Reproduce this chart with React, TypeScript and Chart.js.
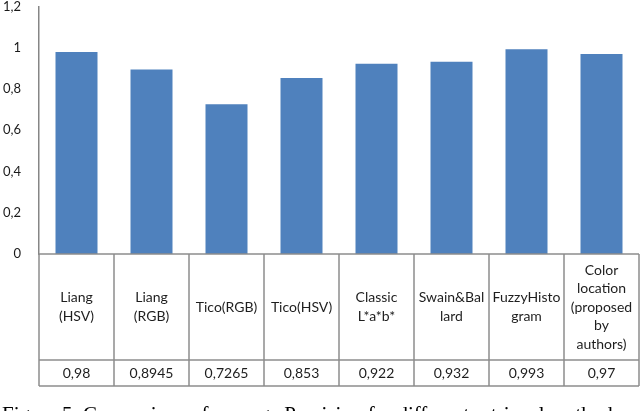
import React, { useEffect, useRef } from "react";
import { Chart, registerables } from "chart.js";

Chart.register(...registerables);

// ---- data ----
const categories: string[][] = [
  ["Liang", "(HSV)"],
  ["Liang", "(RGB)"],
  ["Tico(RGB)"],
  ["Tico(HSV)"],
  ["Classic", "L*a*b*"],
  ["Swain&Bal", "lard"],
  ["FuzzyHisto", "gram"],
  ["Color", "location", "(proposed", "by", "authors)"],
];
const precision: number[] = [0.98, 0.8945, 0.7265, 0.853, 0.922, 0.932, 0.993, 0.97];
const yMin = 0;
const yMax = 1.2;
const yStep = 0.2;
const caption = "Figure 5. Comparison of average Precision for different retrieval methods";

const fmt = (v: number) => String(Number(v.toFixed(4))).replace(".", ",");

const FONT = "Lato, 'Open Sans', sans-serif";

const tablePlugin = {
  id: "dataTable",
  afterDraw(chart: any) {
    const { ctx, chartArea } = chart;
    const xs = chart.scales.x;
    const n = categories.length;
    const left = chartArea.left;
    const right = chartArea.right;
    const w = (right - left) / n;
    const top = chartArea.bottom;
    const mid = top + 106;
    const bottom = top + 132;
    ctx.save();
    ctx.strokeStyle = "#8c8c8c";
    ctx.lineWidth = 1.5;
    const line = (x1: number, y1: number, x2: number, y2: number) => {
      ctx.beginPath();
      ctx.moveTo(x1, y1);
      ctx.lineTo(x2, y2);
      ctx.stroke();
    };
    [top, mid, bottom].forEach((y) => line(left, y, right, y));
    for (let i = 0; i <= n; i++) {
      const xb = left + i * w;
      line(xb, top, xb, bottom);
    }
    ctx.fillStyle = "#1e1e1e";
    ctx.font = `14px ${FONT}`;
    ctx.textAlign = "center";
    ctx.textBaseline = "middle";
    const lh = 18.5;
    categories.forEach((lines, i) => {
      const cx = xs.getPixelForValue(i);
      const y0 = (top + mid) / 2 - ((lines.length - 1) * lh) / 2;
      lines.forEach((t, j) => ctx.fillText(t, cx, y0 + j * lh));
      ctx.fillText(fmt(precision[i]), cx, (mid + bottom) / 2);
    });
    ctx.restore();
  },
};

export default function App() {
  const ref = useRef<HTMLCanvasElement | null>(null);
  useEffect(() => {
    if (!ref.current) return;
    const chart = new Chart(ref.current, {
      type: "bar",
      data: {
        labels: categories.map((c) => c.join(" ")),
        datasets: [
          {
            data: precision,
            backgroundColor: "#4F81BD",
            borderWidth: 0,
            categoryPercentage: 1,
            barPercentage: 0.56,
          },
        ],
      },
      options: {
        animation: false,
        responsive: false,
        maintainAspectRatio: false,
        layout: { padding: { top: 6, right: 1, bottom: 157, left: 0 } },
        plugins: {
          legend: { display: false },
          tooltip: { enabled: false },
        },
        scales: {
          x: { display: false },
          y: {
            min: yMin,
            max: yMax,
            afterFit: (s: any) => {
              s.width = 39;
            },
            grid: { display: false, drawTicks: true, tickLength: 18 },
            border: { display: true, color: "#868686", width: 1.5 },
            ticks: {
              stepSize: yStep,
              padding: 0,
              color: "#1a1a1a",
              font: { family: FONT, size: 13, lineHeight: 1 },
              callback: (v: any) => fmt(Number(v)),
            },
          },
        },
      },
      plugins: [tablePlugin],
    });
    return () => chart.destroy();
  }, []);

  return (
    <div
      style={{
        position: "absolute",
        left: 0,
        top: 0,
        width: 640,
        height: 411,
        overflow: "hidden",
        background: "#fff",
      }}
    >
      <canvas ref={ref} width={640} height={411} style={{ display: "block" }} />
      <div
        style={{
          position: "absolute",
          left: 2,
          top: 402,
          whiteSpace: "nowrap",
          fontFamily: "'Liberation Serif', 'Times New Roman', serif",
          fontSize: 21,
          color: "#000",
        }}
      >
        {caption}
      </div>
    </div>
  );
}
